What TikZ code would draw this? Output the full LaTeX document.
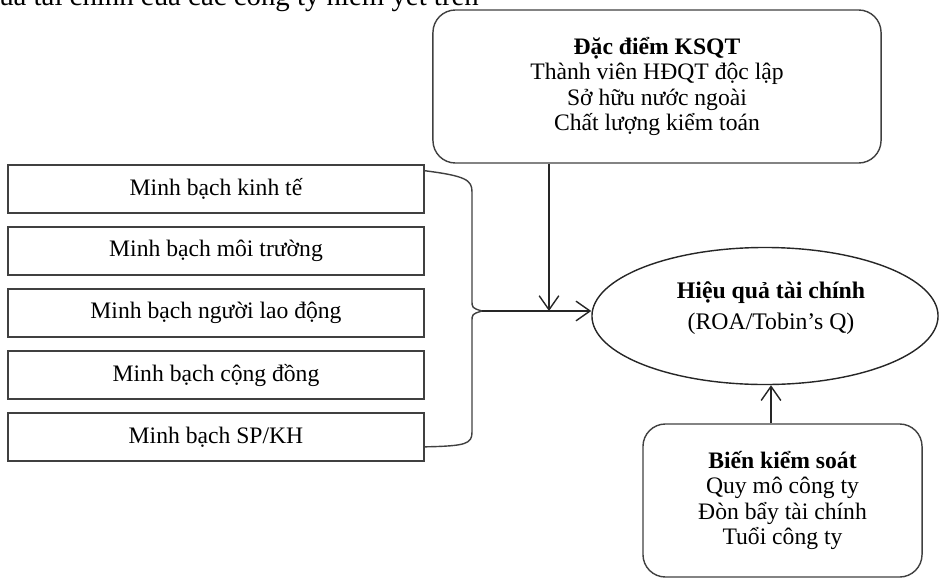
\documentclass[tikz,border=0pt]{standalone}
\usepackage{fontspec}
\setmainfont{Liberation Serif}
\usetikzlibrary{arrows.meta,shapes.geometric}
\tikzset{
  minhbox/.style={draw=black!75, line width=1pt, minimum width=10.4cm, minimum height=1.2cm, inner sep=0pt, font=\fontsize{16.8}{18}\selectfont},
  roundbox/.style={draw=black!75, line width=1pt, rounded corners=16pt, align=center, inner sep=0pt, font=\fontsize{16.8}{18.2}\selectfont},
  brace/.style={draw=black!75, line width=1pt},
  link/.style={draw=black!85, line width=1pt, -{Straight Barb[length=10pt,width=14pt]}},
}
\begin{document}
\begin{tikzpicture}[x=0.025cm, y=-0.025cm]
		\useasboundingbox (0,0) rectangle (940,579);
		% LINE OF TEXT CUT OFF AT THE TOP
		\node[anchor=base west, inner sep=0pt, font=\fontsize{20.5}{24}\selectfont] (cutline) at (-1,5) {ủa tài chính của các công ty niêm yết trên};
		% KSQT
		\node[roundbox, minimum width=11.2cm, minimum height=3.825cm] (ksqt) at (657,86.5) {\textbf{Đặc điểm KSQT}\\Thành viên HĐQT độc lập\\Sở hữu nước ngoài\\Chất lượng kiểm toán};
		% MINH BACH
		\node[minhbox] (kinhte) at (216,189) {Minh bạch kinh tế};
		\node[minhbox] (moitruong) at (216,251) {Minh bạch môi trường};
		\node[minhbox] (laodong) at (216,313) {Minh bạch người lao động};
		\node[minhbox] (congdong) at (216,375) {Minh bạch cộng đồng};
		\node[minhbox] (spkh) at (216,437) {Minh bạch SP/KH};
		\coordinate (tip) at (482,311);
		\draw[brace] ([yshift=13pt]kinhte.east) .. controls (466,176) and (472,180) .. (472,192) -- (472,300) .. controls (472,308) .. (tip) .. controls (472,314) .. (472,322) -- (472,432) .. controls (472,444) and (466,446) .. ([yshift=-7pt]spkh.east);
		% HIEU QUA
		\node[ellipse, draw=black!85, line width=1pt, minimum width=8.65cm, minimum height=3.425cm, inner sep=0pt] (hq) at (765,316) {};
		\node[align=center, font=\fontsize{16.9}{22}\selectfont] (hqtext) at (771,308) {\textbf{Hiệu quả tài chính}\\(ROA/Tobin’s Q)};
		\coordinate (join) at (549,311);
		\draw[link] (tip) -- (tip -| hq.west);
		\draw[link] (ksqt.south -| join) -- (join);
		% BIEN KIEM SOAT
		\node[roundbox, minimum width=6.975cm, minimum height=3.825cm] (bien) at (782.5,500.5) {\textbf{Biến kiểm soát}\\Quy mô công ty\\Đòn bẩy tài chính\\Tuổi công ty};
		\draw[link] (bien.north -| hqtext) -- (hqtext |- hq.south);
	\end{tikzpicture}
\end{document}
